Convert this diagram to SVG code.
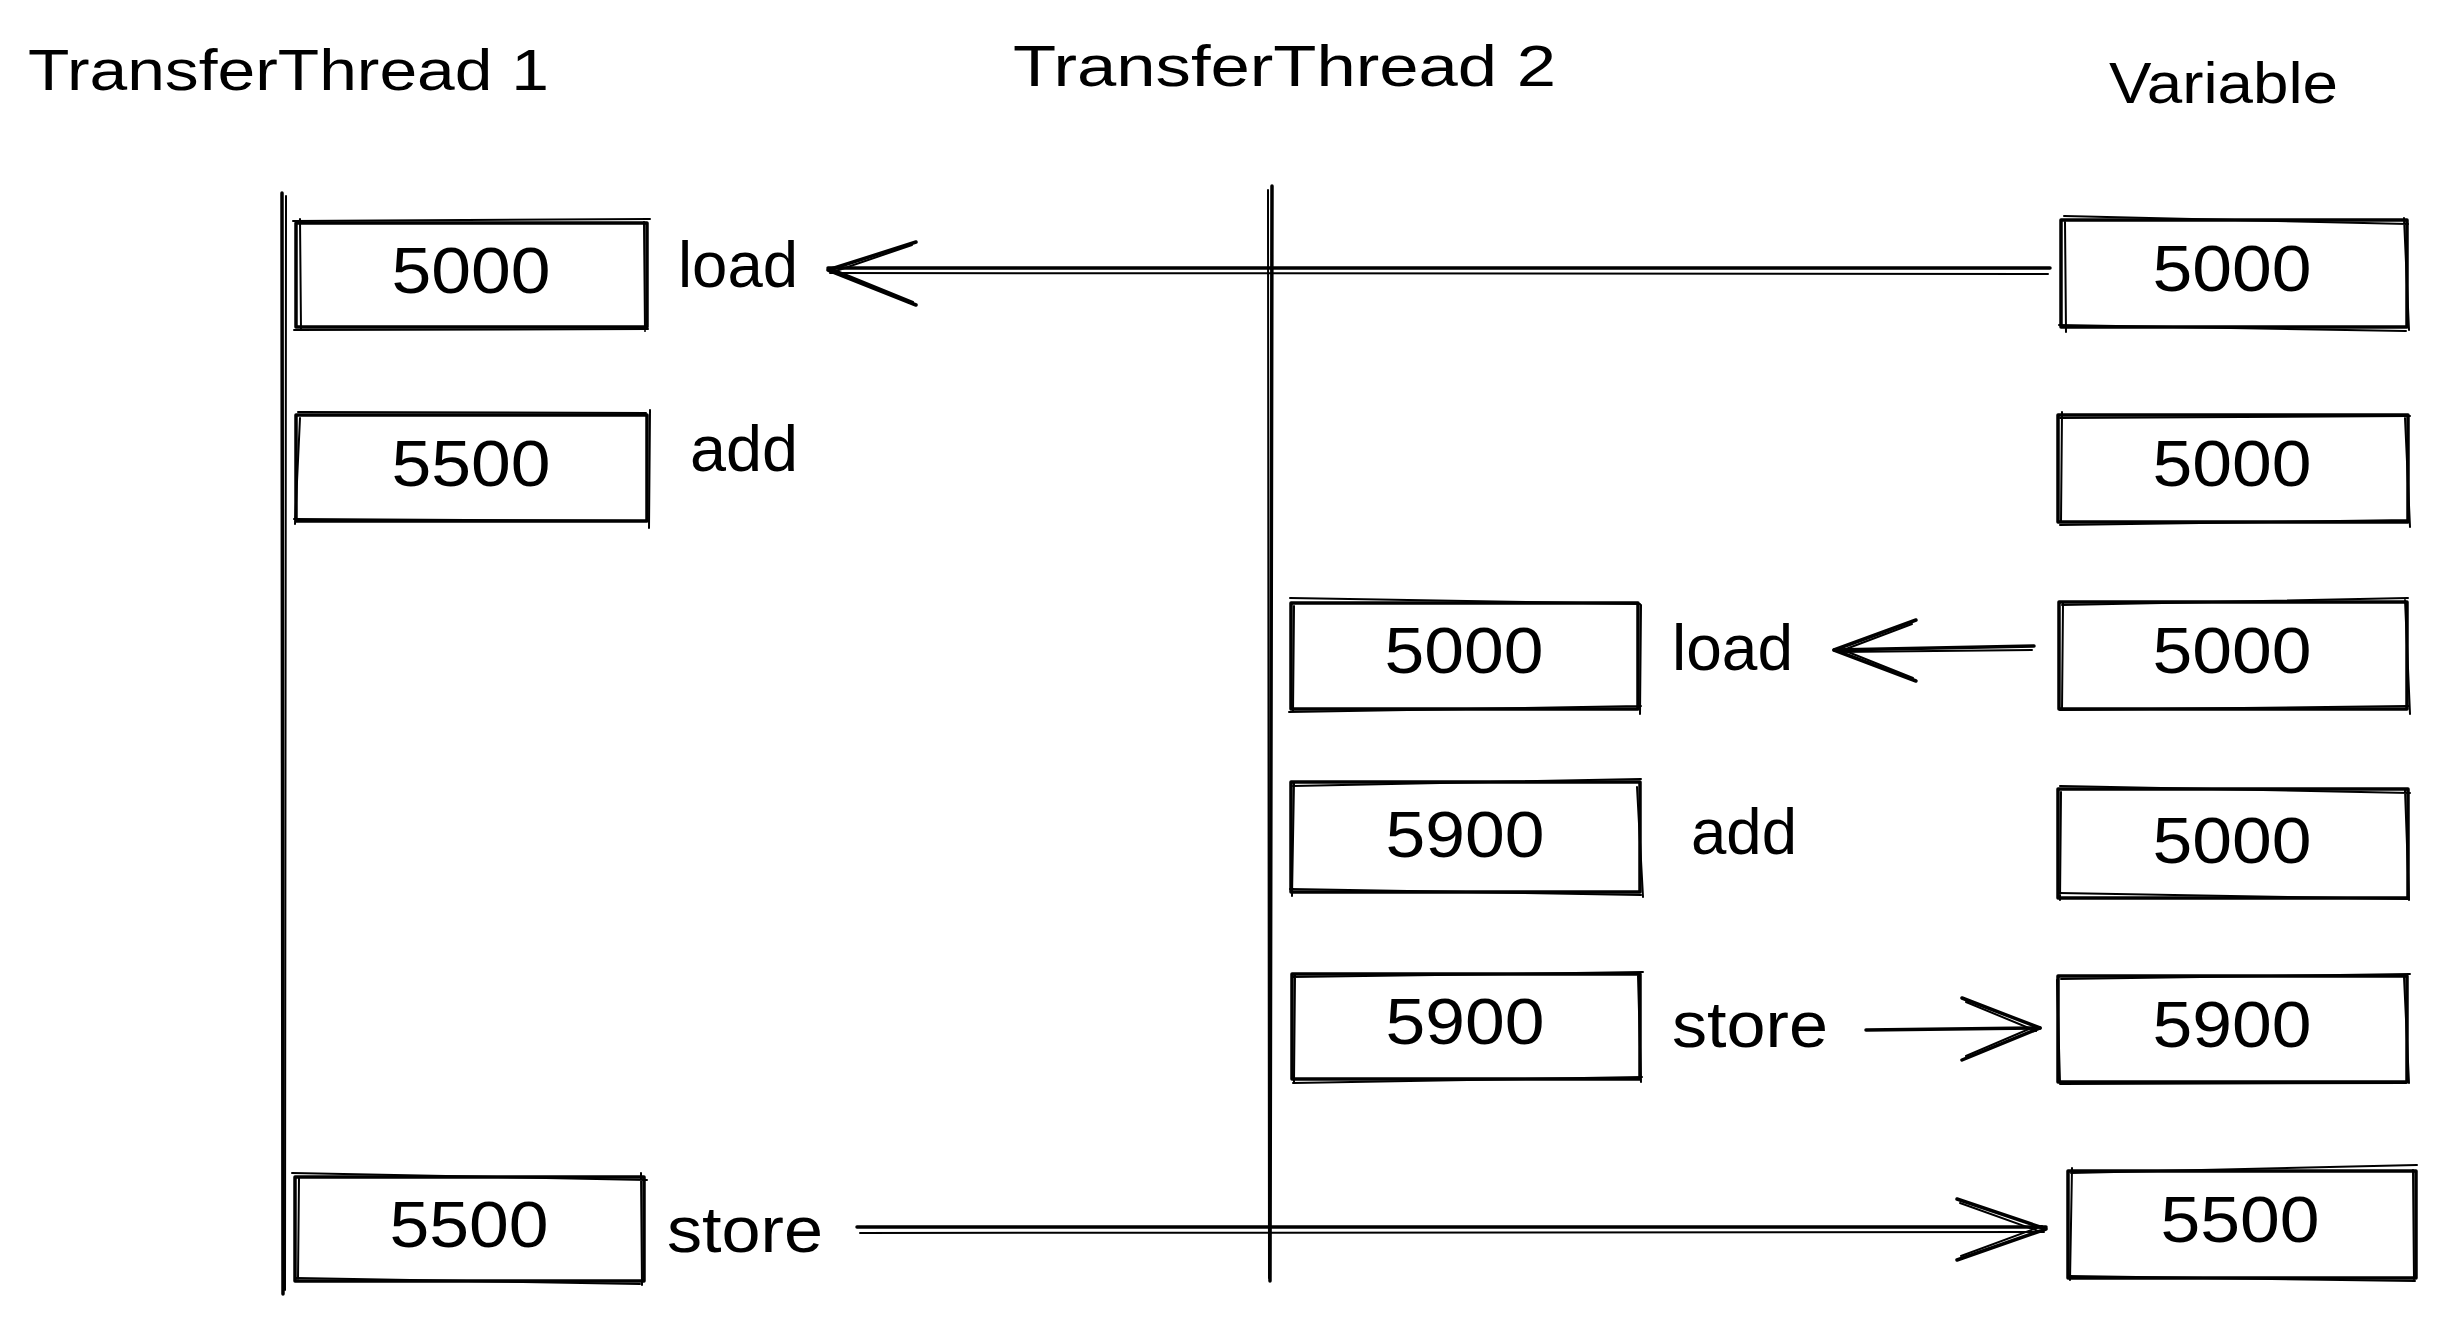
<svg xmlns="http://www.w3.org/2000/svg" width="2444" height="1324" viewBox="0 0 2444 1324">
<style>
.s{fill:none;stroke:#000;stroke-width:3.5;stroke-linecap:round;stroke-linejoin:round}
.s2{fill:none;stroke:#000;stroke-width:2;stroke-linecap:round}
.t{font-family:"Liberation Sans",Arial,sans-serif;fill:#000}
.title{font-size:58px}
.num{font-size:64px;text-anchor:middle}
.lbl{font-size:64px}
</style>
<rect width="2444" height="1324" fill="#fff"/>
<g id="titles">
<text class="t title" x="28" y="90" textLength="521" lengthAdjust="spacingAndGlyphs">TransferThread 1</text>
<text class="t title" x="1013" y="86" textLength="543" lengthAdjust="spacingAndGlyphs">TransferThread 2</text>
<text class="t title" x="2109" y="103" textLength="229" lengthAdjust="spacingAndGlyphs">Variable</text>
</g>
<g id="lifelines">
<path class="s" d="M282 193 L283 1294"/>
<path class="s2" d="M286 196 L285 1290"/>
<path class="s" d="M1272 186 L1270 1281"/>
<path class="s2" d="M1268 190 L1269 1278"/>
</g>
<g id="connectors">
<g id="c1">
<path class="s" d="M2050 268 L828 268"/>
<path class="s2" d="M2048 274 L830 273"/>
<path class="s" d="M828 270 L916 242 M828 270 L916 305"/>
<path class="s2" d="M833 272 L912 245 M832 269 L913 302"/>
</g>
<g id="c2">
<path class="s" d="M2034 646 L1834 650"/>
<path class="s2" d="M2032 650 L1838 652"/>
<path class="s" d="M1834 650 L1916 620 M1834 650 L1916 681"/>
<path class="s2" d="M1838 652 L1912 624 M1838 648 L1913 678"/>
</g>
<g id="c3">
<path class="s" d="M1866 1030 L2040 1028"/>
<path class="s" d="M2040 1028 L1962 998 M2040 1028 L1962 1060"/>
<path class="s2" d="M2036 1031 L1966 1002 M2036 1026 L1966 1056"/>
</g>
<g id="c4">
<path class="s" d="M857 1227 L2046 1227"/>
<path class="s2" d="M860 1233 L2044 1232"/>
<path class="s" d="M2046 1229 L1957 1199 M2046 1229 L1957 1260"/>
<path class="s2" d="M2041 1232 L1960 1203 M2042 1226 L1961 1256"/>
</g>
</g>
<g id="labels">
<text class="t lbl" x="678" y="287" textLength="120" lengthAdjust="spacingAndGlyphs">load</text>
<text class="t lbl" x="690" y="471" textLength="108" lengthAdjust="spacingAndGlyphs">add</text>
<text class="t lbl" x="667" y="1252" textLength="156" lengthAdjust="spacingAndGlyphs">store</text>
<text class="t lbl" x="1672" y="670" textLength="121" lengthAdjust="spacingAndGlyphs">load</text>
<text class="t lbl" x="1691" y="854" textLength="106" lengthAdjust="spacingAndGlyphs">add</text>
<text class="t lbl" x="1672" y="1047" textLength="156" lengthAdjust="spacingAndGlyphs">store</text>
</g>
<g id="t1-load">
<rect class="s" x="296" y="223" width="351" height="104"/>
<path class="s2" d="M293 221 L650 219 M300 219 L301 330 M644 222 L645 331 M294 330 L648 329"/>
<text class="t num" x="471" y="293" textLength="159" lengthAdjust="spacingAndGlyphs">5000</text>
</g>
<g id="t1-add">
<rect class="s" x="296" y="415" width="351" height="106"/>
<path class="s2" d="M298 412 L646 413 M300 418 L295 524 M650 410 L649 528 M294 519 L648 521"/>
<text class="t num" x="471" y="486" textLength="159" lengthAdjust="spacingAndGlyphs">5500</text>
</g>
<g id="t1-store">
<rect class="s" x="295" y="1177" width="349" height="104"/>
<path class="s2" d="M292 1173 L647 1180 M299 1178 L298 1279 M641 1173 L642 1285 M296 1278 L640 1284"/>
<text class="t num" x="469" y="1247" textLength="159" lengthAdjust="spacingAndGlyphs">5500</text>
</g>
<g id="t2-load">
<rect class="s" x="1291" y="603" width="347" height="106"/>
<path class="s2" d="M1290 598 L1640 604 M1294 606 L1293 712 M1641 605 L1640 714 M1289 712 L1641 706"/>
<text class="t num" x="1464" y="673" textLength="159" lengthAdjust="spacingAndGlyphs">5000</text>
</g>
<g id="t2-add">
<rect class="s" x="1291" y="782" width="349" height="110"/>
<path class="s2" d="M1293 786 L1641 779 M1294 782 L1292 896 M1637 787 L1643 897 M1290 889 L1641 895"/>
<text class="t num" x="1465" y="857" textLength="159" lengthAdjust="spacingAndGlyphs">5900</text>
</g>
<g id="t2-store">
<rect class="s" x="1292" y="974" width="348" height="105"/>
<path class="s2" d="M1292 977 L1643 972 M1295 975 L1294 1082 M1638 976 L1641 1082 M1293 1083 L1642 1077"/>
<text class="t num" x="1465" y="1044" textLength="159" lengthAdjust="spacingAndGlyphs">5900</text>
</g>
<g id="var-1">
<rect class="s" x="2061" y="220" width="346" height="107"/>
<path class="s2" d="M2064 216 L2408 224 M2065 222 L2066 332 M2404 218 L2409 330 M2059 325 L2406 331"/>
<text class="t num" x="2232" y="291" textLength="159" lengthAdjust="spacingAndGlyphs">5000</text>
</g>
<g id="var-2">
<rect class="s" x="2058" y="415" width="350" height="107"/>
<path class="s2" d="M2060 418 L2410 416 M2062 412 L2061 522 M2405 418 L2410 527 M2060 525 L2409 520"/>
<text class="t num" x="2232" y="486" textLength="159" lengthAdjust="spacingAndGlyphs">5000</text>
</g>
<g id="var-3">
<rect class="s" x="2059" y="602" width="348" height="107"/>
<path class="s2" d="M2062 605 L2408 598 M2063 603 L2062 710 M2405 600 L2410 714 M2060 710 L2408 706"/>
<text class="t num" x="2232" y="673" textLength="159" lengthAdjust="spacingAndGlyphs">5000</text>
</g>
<g id="var-4">
<rect class="s" x="2058" y="789" width="350" height="109"/>
<path class="s2" d="M2060 786 L2410 793 M2061 792 L2060 900 M2405 790 L2409 900 M2059 893 L2408 899"/>
<text class="t num" x="2232" y="863" textLength="159" lengthAdjust="spacingAndGlyphs">5000</text>
</g>
<g id="var-5">
<rect class="s" x="2058" y="976" width="349" height="106"/>
<path class="s2" d="M2061 979 L2410 974 M2057 980 L2060 1082 M2404 977 L2409 1083 M2060 1084 L2406 1083"/>
<text class="t num" x="2232" y="1047" textLength="159" lengthAdjust="spacingAndGlyphs">5900</text>
</g>
<g id="var-6">
<rect class="s" x="2068" y="1171" width="348" height="107"/>
<path class="s2" d="M2071 1173 L2417 1165 M2072 1168 L2070 1280 M2413 1170 L2414 1279 M2069 1276 L2415 1281"/>
<text class="t num" x="2240" y="1242" textLength="159" lengthAdjust="spacingAndGlyphs">5500</text>
</g>
</svg>
